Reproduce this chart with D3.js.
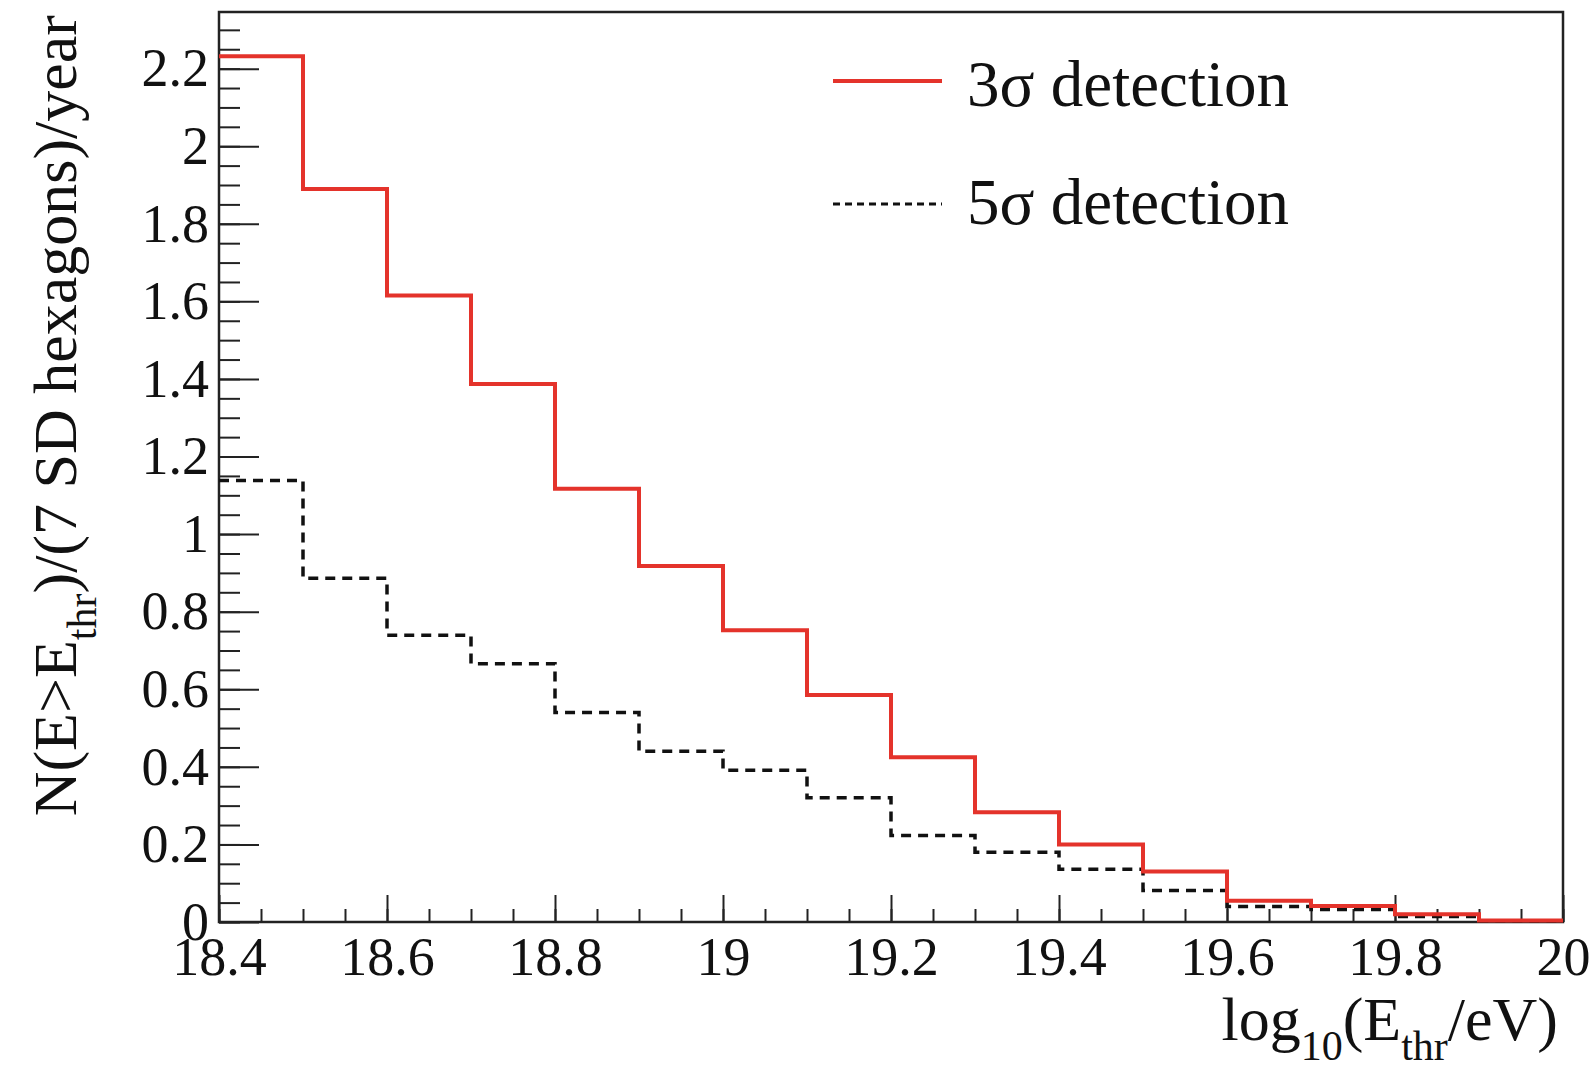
<!DOCTYPE html>
<html>
<head>
<meta charset="utf-8">
<script src="https://cdn.jsdelivr.net/npm/d3@7"></script>
<style>
  body { margin: 0; background: #fff; }
  svg text { font-family: "Liberation Serif", "Times New Roman", serif; fill: #111; }
</style>
</head>
<body>
<div id="vis"></div>
<script>
// bin edges of the histogram (log10 E_thr)
var binEdges = [18.4, 18.5, 18.6, 18.7, 18.8, 18.9, 19.0, 19.1, 19.2, 19.3, 19.4, 19.5, 19.6, 19.7, 19.8, 19.9, 20.0];
// N per year, 3 sigma and 5 sigma
var sigma3 = [2.232, 1.890, 1.615, 1.387, 1.117, 0.918, 0.752, 0.585, 0.425, 0.283, 0.200, 0.130, 0.055, 0.041, 0.020, 0.004];
var sigma5 = [1.138, 0.886, 0.739, 0.666, 0.540, 0.440, 0.391, 0.320, 0.223, 0.180, 0.136, 0.081, 0.040, 0.032, 0.014, 0.002];
var xTicks = [18.4, 18.6, 18.8, 19, 19.2, 19.4, 19.6, 19.8, 20];
var yTicks = [0, 0.2, 0.4, 0.6, 0.8, 1, 1.2, 1.4, 1.6, 1.8, 2, 2.2];
var legendLabels = ["3σ detection", "5σ detection"];

var w = 1596, h = 1074;
var pLeft = 219, pRight = 1563, pTop = 12, pBottom = 922;

var svg = d3.select("#vis").append("svg")
  .attr("width", w)
  .attr("height", h);

var x = d3.scaleLinear().domain([18.4, 20]).range([pLeft, pRight]);
var y = d3.scaleLinear().domain([0, 2.346]).range([pBottom, pTop]);

var fmt = d3.format("~g");

// minor ticks first
svg.append("g")
  .attr("transform", "translate(" + pLeft + ",0)")
  .call(d3.axisLeft(y).tickValues(d3.range(0, 2.34, 0.05)).tickSize(-21).tickFormat(""))
  .call(function(g) { g.select(".domain").remove(); });

svg.append("g")
  .attr("transform", "translate(0," + pBottom + ")")
  .call(d3.axisBottom(x).tickValues(d3.range(18.4, 20.001, 0.05)).tickSize(-13).tickFormat(""))
  .call(function(g) { g.select(".domain").remove(); });

// major ticks with labels
var yAxis = svg.append("g")
  .attr("transform", "translate(" + pLeft + ",0)")
  .call(d3.axisLeft(y).tickValues(yTicks).tickSize(-40).tickPadding(10).tickFormat(fmt));
yAxis.select(".domain").remove();
yAxis.selectAll("text").attr("font-size", 54).style("font-family", "Liberation Serif");

var xAxis = svg.append("g")
  .attr("transform", "translate(0," + pBottom + ")")
  .call(d3.axisBottom(x).tickValues(xTicks).tickSize(-27).tickPadding(15).tickFormat(fmt));
xAxis.select(".domain").remove();
xAxis.selectAll("text").attr("font-size", 54).style("font-family", "Liberation Serif");

svg.selectAll(".tick line").attr("stroke", "#222").attr("stroke-width", 2);

// frame
svg.append("rect")
  .attr("x", pLeft)
  .attr("y", pTop)
  .attr("width", pRight - pLeft)
  .attr("height", pBottom - pTop)
  .attr("fill", "none")
  .attr("stroke", "#222")
  .attr("stroke-width", 2.5);

// histograms as step lines
function stepPoints(vals) {
  var pts = vals.map(function(v, i) { return [binEdges[i], v]; });
  pts.push([binEdges[binEdges.length - 1], vals[vals.length - 1]]);
  return pts;
}

var line = d3.line()
  .x(function(d) { return x(d[0]); })
  .y(function(d) { return y(d[1]); })
  .curve(d3.curveStepAfter);

svg.append("path")
  .datum(stepPoints(sigma5))
  .attr("d", line)
  .attr("fill", "none")
  .attr("stroke", "#111")
  .attr("stroke-width", 3.5)
  .attr("stroke-dasharray", "10,7");

svg.append("path")
  .datum(stepPoints(sigma3))
  .attr("d", line)
  .attr("fill", "none")
  .attr("stroke", "#e4332b")
  .attr("stroke-width", 4);

// legend
var legend = svg.append("g");
legend.append("line")
  .attr("x1", 833).attr("x2", 942)
  .attr("y1", 81).attr("y2", 81)
  .attr("stroke", "#e4332b")
  .attr("stroke-width", 4);
legend.append("line")
  .attr("x1", 833).attr("x2", 942)
  .attr("y1", 204).attr("y2", 204)
  .attr("stroke", "#111")
  .attr("stroke-width", 3)
  .attr("stroke-dasharray", "7,5");
legend.selectAll("text.leg")
  .data(legendLabels)
  .enter()
  .append("text")
  .attr("class", "leg")
  .attr("x", 967)
  .attr("y", function(d, i) { return i === 0 ? 106 : 224; })
  .attr("font-size", 65)
  .text(function(d) { return d; });

// x title
var xt = svg.append("text")
  .attr("x", 1558)
  .attr("y", 1040)
  .attr("text-anchor", "end")
  .attr("font-size", 62);
xt.append("tspan").text("log");
xt.append("tspan").attr("font-size", 42).attr("dy", 20).text("10");
xt.append("tspan").attr("dy", -20).text("(E");
xt.append("tspan").attr("font-size", 42).attr("dy", 20).text("thr");
xt.append("tspan").attr("dy", -20).text("/eV)");

// y title
var yt = svg.append("text")
  .attr("transform", "translate(76,15) rotate(-90)")
  .attr("text-anchor", "end")
  .attr("font-size", 62);
yt.append("tspan").text("N(E>E");
yt.append("tspan").attr("font-size", 42).attr("dy", 20).text("thr");
yt.append("tspan").attr("dy", -20).text(")/(7 SD hexagons)/year");
</script>
</body>
</html>
